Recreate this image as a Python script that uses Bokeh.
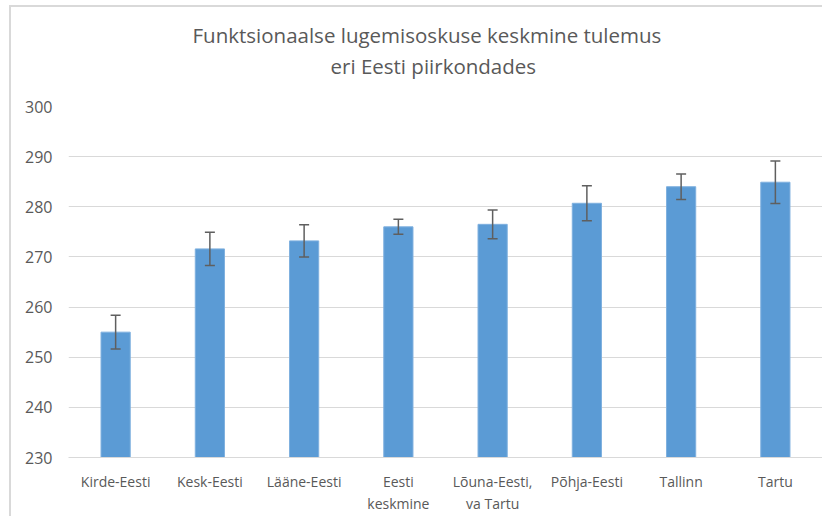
from bokeh.plotting import figure
from bokeh.models import ColumnDataSource, Whisker, TeeHead, FixedTicker, Range1d, Title
from bokeh.embed import file_html
from bokeh.resources import INLINE

categories = ["Kirde-Eesti", "Kesk-Eesti", "Lääne-Eesti", "Eesti\nkeskmine",
              "Lõuna-Eesti,\nva Tartu", "Põhja-Eesti", "Tallinn", "Tartu"]
means = [255.0, 271.6, 273.2, 276.0, 276.5, 280.7, 284.0, 284.9]
errors = [3.35, 3.3, 3.2, 1.5, 2.85, 3.5, 2.55, 4.25]
y_ticks = [230, 240, 250, 260, 270, 280, 290, 300]
title_lines = ["Funktsionaalse lugemisoskuse keskmine tulemus", "eri Eesti piirkondades"]

upper = [m + e for m, e in zip(means, errors)]
lower = [m - e for m, e in zip(means, errors)]
src = ColumnDataSource(dict(cat=categories, mean=means, upper=upper, lower=lower))

FONT = "Open Sans"
GRAY = "#595959"

p = figure(x_range=categories, y_range=Range1d(230, 300),
           frame_width=754, frame_height=351, output_backend="svg", toolbar_location=None,
           min_border_left=57, min_border_right=0, min_border_top=99, min_border_bottom=0)
p.styles = {"margin-left": "9px", "margin-top": "5px",
            "border-left": "2px solid #D9D9D9", "border-top": "2px solid #D9D9D9"}

p.title.visible = False
spacer = Title(text=" ", standoff=23, text_font_size="1px", text_color="white")
t2 = Title(text=title_lines[1], align="left", offset=262, standoff=2,
           text_font=FONT, text_font_size="20.5px", text_font_style="normal", text_color=GRAY)
t1 = Title(text=title_lines[0], align="left", offset=124, standoff=0,
           text_font=FONT, text_font_size="20.5px", text_font_style="normal", text_color=GRAY)
p.add_layout(spacer, "above")
p.add_layout(t2, "above")
p.add_layout(t1, "above")

p.vbar(x="cat", top="mean", bottom=230, width=0.31, source=src,
       fill_color="#5B9BD5", line_color="#7FB0DF", line_width=1)

w = Whisker(base="cat", upper="upper", lower="lower", source=src, level="overlay",
            line_color="#5F5F5F", line_width=1.5,
            upper_head=TeeHead(size=10, line_color="#5F5F5F", line_width=1.5),
            lower_head=TeeHead(size=10, line_color="#5F5F5F", line_width=1.5))
p.add_layout(w)

p.outline_line_color = None
p.xgrid.grid_line_color = None
p.ygrid.grid_line_color = "#D9D9D9"
p.ygrid.grid_line_width = 1
p.yaxis.ticker = FixedTicker(ticks=y_ticks)

p.yaxis.axis_line_color = None
p.yaxis.major_tick_line_color = None
p.yaxis.minor_tick_line_color = None
p.yaxis.major_label_standoff = 10
p.yaxis.major_label_text_font = FONT
p.yaxis.major_label_text_font_size = "16px"
p.yaxis.major_label_text_color = GRAY

p.xaxis.axis_line_color = "#D9D9D9"
p.xaxis.axis_line_width = 1
p.xaxis.major_tick_line_color = None
p.xaxis.minor_tick_line_color = None
p.xaxis.major_label_standoff = 8
p.xaxis.major_label_text_font = FONT
p.xaxis.major_label_text_font_size = "14px"
p.xaxis.major_label_text_color = GRAY

open("out.html", "w").write(file_html(p, INLINE))
